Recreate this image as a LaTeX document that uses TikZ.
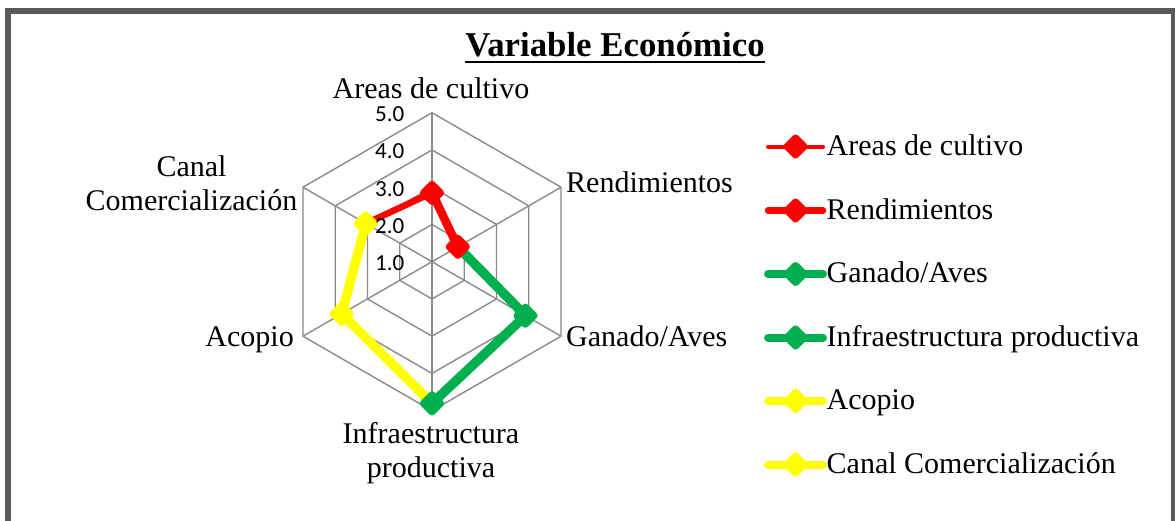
\documentclass[tikz,border=0pt]{standalone}
\usepackage{fontspec}
\setmainfont{Liberation Serif}
\newfontfamily\tickfont{Carlito}
\usetikzlibrary{shapes.geometric,calc}
\definecolor{xred}{HTML}{FF0000}
\definecolor{xgreen}{HTML}{00B050}
\definecolor{xyellow}{HTML}{FFFF00}
\definecolor{gridc}{HTML}{8A8A8A}
\definecolor{framec}{HTML}{5A5A5A}
\tikzset{
  mk/.style={diamond, draw, fill, line width=7pt, line join=round, minimum size=20pt, inner sep=0pt},
  gridl/.style={draw=gridc, line width=1.4pt, line join=miter},
  lbl/.style={font=\fontsize{30}{34}\selectfont, inner sep=0pt},
  tick/.style={font=\tickfont\fontsize{23}{26}\selectfont, inner sep=0pt, anchor=east},
  dl/.style={line width=#1, line cap=round, line join=round},
}
\begin{document}
\begin{tikzpicture}[x=1pt,y=1pt]
\useasboundingbox (0,0) rectangle (1175,-520);
\fill[white] (0,0) rectangle (1175,-520);
% frame
\draw[framec, line width=6pt] (8,-10.7) rectangle (1173.8,-540);
% title
\node[inner sep=0pt, anchor=base, font=\fontsize{34.8}{40}\selectfont\bfseries] (title) at (615,-56.7) {Variable Económico};
\draw[line width=2pt] ($(title.base west)+(0,-5.3)$) -- ($(title.base east)+(0,-5.3)$);
% chart centre
\coordinate (c) at (432,-261.7);
% grid rings
\foreach \r in {37.25,74.5,111.75,149}{
  \draw[gridl] ([shift={(90:\r)}]c) -- ([shift={(30:\r)}]c) -- ([shift={(-30:\r)}]c) -- ([shift={(-90:\r)}]c) -- ([shift={(-150:\r)}]c) -- ([shift={(150:\r)}]c) -- cycle;
}
\foreach \a in {90,30,-30,-90,-150,150}{
  \draw[gridl] (c) -- ([shift={(\a:149)}]c);
}
% data points
\coordinate (p1) at ([shift={(90:68.9)}]c);
\coordinate (p2) at ([shift={(30:29.8)}]c);
\coordinate (p3) at ([shift={(-30:108.0)}]c);
\coordinate (p4) at ([shift={(-90:141.6)}]c);
\coordinate (p5) at ([shift={(-150:104.3)}]c);
\coordinate (p6) at ([shift={(150:76.4)}]c);
\draw[dl=6.5pt, xred] (p6) -- (p1);
\draw[dl=8.5pt, xred] (p1) -- (p2);
\draw[dl=9.5pt, xgreen] (p2) -- (p3);
\draw[dl=9.5pt, xgreen] (p3) -- (p4);
\draw[dl=9.5pt, xyellow] (p4) -- (p5);
\draw[dl=9.5pt, xyellow] (p5) -- (p6);
\node[mk, xred] (m1) at (p1) {};
\node[mk, xred] (m2) at (p2) {};
\node[mk, xgreen] (m3) at (p3) {};
\node[mk, xgreen] (m4) at (p4) {};
\node[mk, xyellow] (m5) at (p5) {};
\node[mk, xyellow] (m6) at (p6) {};
% tick labels
\node[tick] (t5) at (404.5,-114.2) {5.0};
\node[tick] (t4) at (404.5,-151.4) {4.0};
\node[tick] (t3) at (404.5,-188.7) {3.0};
\node[tick] (t2) at (404.5,-225.9) {2.0};
\node[tick] (t1) at (404.5,-263.2) {1.0};
% axis labels
\node[lbl, anchor=base] (la) at (431,-98) {Areas de cultivo};
\node[lbl, anchor=base west] (lr) at (566,-192.7) {Rendimientos};
\node[lbl, anchor=base west] (lg) at (566,-346.7) {Ganado/Aves};
\node[lbl, anchor=base] (li1) at (431,-443) {Infraestructura};
\node[lbl, anchor=base] (li2) at (431,-477) {productiva};
\node[lbl, anchor=base east] (lac) at (294,-346.7) {Acopio};
\node[lbl, anchor=base] (lc1) at (191.5,-176) {Canal};
\node[lbl, anchor=base] (lc2) at (191.5,-210.7) {Comercialización};
% legend
\foreach \i/\yb/\col/\w/\txt in {
  1/155/xred/4pt/{Areas de cultivo},
  2/219/xred/6.5pt/{Rendimientos},
  3/282.5/xgreen/8pt/{Ganado/Aves},
  4/346/xgreen/8pt/{Infraestructura productiva},
  5/409.5/xyellow/7.5pt/{Acopio},
  6/473/xyellow/8pt/{Canal Comercialización}}{
  \coordinate (ls\i) at (768,-\yb+8.5);
  \coordinate (le\i) at (823,-\yb+8.5);
  \draw[dl=\w, \col] (ls\i) -- (le\i);
  \node[mk, \col] (lm\i) at ($(ls\i)!0.5!(le\i)$) {};
  \node[lbl, anchor=base west] (lt\i) at (826.5,-\yb) {\txt};
}
\end{tikzpicture}
\end{document}
